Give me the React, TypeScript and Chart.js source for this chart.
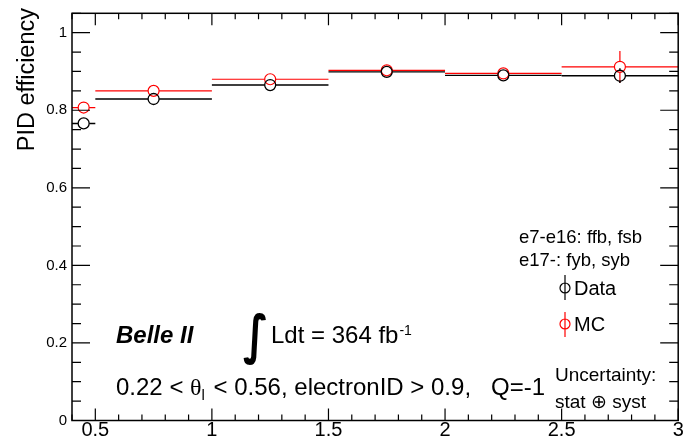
import React, { useEffect, useRef } from 'react';
import { Chart, registerables } from 'chart.js';

Chart.register(...registerables);

// ---- data ----
const binEdges = [0.4, 0.5, 1.0, 1.5, 2.0, 2.5, 3.0];
const dataEff = [0.766, 0.829, 0.865, 0.899, 0.890, 0.889];
const dataErr = [0.006, 0.004, 0.004, 0.004, 0.006, 0.019];
const mcEff = [0.807, 0.850, 0.880, 0.903, 0.895, 0.912];
const mcErr = [0.004, 0.003, 0.003, 0.003, 0.005, 0.041];
const xTicks = [0.5, 1, 1.5, 2, 2.5, 3];
const xTickLabels = ['0.5', '1', '1.5', '2', '2.5', '3'];
const yTicks = [0, 0.2, 0.4, 0.6, 0.8, 1];
const yTickLabels = ['0', '0.2', '0.4', '0.6', '0.8', '1'];
const xMinorStep = 0.1;
const yMinorStep = 0.05;

const FONT = '"Liberation Sans", Arial, Helvetica, sans-serif';
const SERIF = '"Liberation Serif", "DejaVu Serif", serif';

export default function App() {
  const ref = useRef<HTMLCanvasElement>(null);

  useEffect(() => {
    const canvas = ref.current;
    if (!canvas) return;
    const centers = binEdges.slice(0, -1).map((e, i) => (e + binEdges[i + 1]) / 2);
    const R = 5.5;

    const rootPlugin = {
      id: 'rootStyle',
      beforeDatasetsDraw(chart: any) {
        const ctx = chart.ctx;
        const xs = chart.scales.x;
        const ys = chart.scales.y;
        const series = [
          { eff: mcEff, err: mcErr, color: '#ff0000', w: 1.2 },
          { eff: dataEff, err: dataErr, color: '#000000', w: 1.4 },
        ];
        ctx.save();
        for (const s of series) {
          ctx.strokeStyle = s.color;
          ctx.lineWidth = s.w;
          for (let i = 0; i < centers.length; i++) {
            const xl = xs.getPixelForValue(binEdges[i]);
            const xh = xs.getPixelForValue(binEdges[i + 1]);
            const xc = xs.getPixelForValue(centers[i]);
            const yc = ys.getPixelForValue(s.eff[i]);
            const yt = ys.getPixelForValue(s.eff[i] + s.err[i]);
            const yb = ys.getPixelForValue(s.eff[i] - s.err[i]);
            ctx.beginPath();
            if (xc - R > xl) { ctx.moveTo(xl, yc); ctx.lineTo(xc - R, yc); }
            if (xh > xc + R) { ctx.moveTo(xc + R, yc); ctx.lineTo(xh, yc); }
            if (yt < yc - R) { ctx.moveTo(xc, yc - R); ctx.lineTo(xc, yt); }
            if (yb > yc + R) { ctx.moveTo(xc, yc + R); ctx.lineTo(xc, yb); }
            ctx.stroke();
          }
        }
        ctx.restore();
      },
      afterDraw(chart: any) {
        const ctx = chart.ctx;
        const xs = chart.scales.x;
        const ys = chart.scales.y;
        const { left, right, top, bottom } = chart.chartArea;
        ctx.save();
        // frame
        ctx.strokeStyle = '#000';
        ctx.lineWidth = 1.5;
        ctx.strokeRect(left, top, right - left, bottom - top);
        // ticks
        ctx.lineWidth = 1.2;
        ctx.beginPath();
        const nx = Math.round((binEdges[binEdges.length - 1] - binEdges[0]) / xMinorStep);
        for (let i = 0; i <= nx; i++) {
          const v = binEdges[0] + i * xMinorStep;
          const major = xTicks.some((t) => Math.abs(t - v) < 1e-6);
          const len = major ? 12 : 6;
          const px = xs.getPixelForValue(v);
          ctx.moveTo(px, bottom); ctx.lineTo(px, bottom - len);
          ctx.moveTo(px, top); ctx.lineTo(px, top + len);
        }
        const ny = Math.floor(ys.max / yMinorStep + 1e-6);
        for (let i = 0; i <= ny; i++) {
          const v = i * yMinorStep;
          const major = yTicks.some((t) => Math.abs(t - v) < 1e-6);
          const len = major ? 18 : 9;
          const py = ys.getPixelForValue(v);
          ctx.moveTo(left, py); ctx.lineTo(left + len, py);
          ctx.moveTo(right, py); ctx.lineTo(right - len, py);
        }
        ctx.stroke();

        // y title
        ctx.fillStyle = '#000';
        ctx.save();
        ctx.translate(34, 8);
        ctx.rotate(-Math.PI / 2);
        ctx.font = `23.5px ${FONT}`;
        ctx.textAlign = 'right';
        ctx.textBaseline = 'alphabetic';
        ctx.fillText('PID efficiency', 0, 0);
        ctx.restore();

        ctx.textAlign = 'left';
        ctx.textBaseline = 'alphabetic';
        // info text
        ctx.font = `18.5px ${FONT}`;
        ctx.fillText('e7-e16: ffb, fsb', 519, 243);
        ctx.fillText('e17-: fyb, syb', 519, 266);

        // legend
        const legend = [
          { label: 'Data', color: '#000000', cy: 288, y0: 275, y1: 300, base: 295 },
          { label: 'MC', color: '#ff0000', cy: 324, y0: 312, y1: 337, base: 331 },
        ];
        for (const l of legend) {
          ctx.strokeStyle = l.color;
          ctx.lineWidth = 1.2;
          ctx.beginPath();
          ctx.arc(565, l.cy, 5, 0, Math.PI * 2);
          ctx.moveTo(565, l.y0); ctx.lineTo(565, l.y1);
          ctx.stroke();
          ctx.fillStyle = '#000';
          ctx.font = `20px ${FONT}`;
          ctx.fillText(l.label, 574, l.base);
        }

        // Belle II
        ctx.font = `italic bold 24px ${FONT}`;
        ctx.fillText('Belle II', 116, 343);

        // integral
        ctx.save();
        ctx.translate(243, 353);
        ctx.scale(1.1, 1.4);
        ctx.font = `bold 38px "DejaVu Sans", ${SERIF}`;
        ctx.fillText('\u222B', 0, 0);
        ctx.restore();

        ctx.font = `24px ${FONT}`;
        const s1 = 'Ldt = 364 fb';
        ctx.fillText(s1, 271, 343);
        const w1 = ctx.measureText(s1).width;
        ctx.font = `14px ${FONT}`;
        ctx.fillText('-1', 271 + w1 + 1, 335);

        // selection line
        let x = 116;
        const base = 395;
        ctx.font = `24px ${FONT}`;
        const a = '0.22 < ';
        ctx.fillText(a, x, base); x += ctx.measureText(a).width;
        ctx.font = `24px ${SERIF}`;
        ctx.fillText('\u03B8', x, base); x += ctx.measureText('\u03B8').width;
        ctx.font = `15px ${FONT}`;
        ctx.fillText('l', x, base + 5); x += ctx.measureText('l').width + 2;
        ctx.font = `24px ${FONT}`;
        ctx.fillText(' < 0.56, electronID > 0.9,   Q=-1', x, base);

        // uncertainty
        ctx.font = `19px ${FONT}`;
        ctx.fillText('Uncertainty:', 555, 381);
        ctx.fillText('stat \u2295 syst', 555, 408);
        ctx.restore();
      },
    };

    const chart = new Chart(canvas, {
      type: 'scatter',
      data: {
        datasets: [
          {
            label: 'Data',
            data: centers.map((c, i) => ({ x: c, y: dataEff[i] })),
            borderColor: '#000000',
            backgroundColor: 'rgba(0,0,0,0)',
            pointRadius: R,
            pointBorderWidth: 1.3,
            pointStyle: 'circle',
          },
          {
            label: 'MC',
            data: centers.map((c, i) => ({ x: c, y: mcEff[i] })),
            borderColor: '#ff0000',
            backgroundColor: 'rgba(0,0,0,0)',
            pointRadius: R,
            pointBorderWidth: 1.2,
            pointStyle: 'circle',
          },
        ],
      },
      options: {
        responsive: false,
        animation: false,
        devicePixelRatio: 1,
        layout: { padding: { top: 13.3, right: 5, left: 0, bottom: 0 } },
        plugins: { legend: { display: false }, tooltip: { enabled: false } },
        scales: {
          x: {
            type: 'linear',
            min: binEdges[0],
            max: binEdges[binEdges.length - 1],
            grid: { display: false, drawTicks: false },
            border: { display: false },
            afterBuildTicks: (s: any) => { s.ticks = xTicks.map((v) => ({ value: v })); },
            afterFit: (s: any) => { s.height = 17.5; },
            ticks: {
              padding: 0,
              maxRotation: 0,
              autoSkip: false,
              color: '#000',
              font: { family: FONT, size: 20, lineHeight: 1 },
              callback: (v: any) => {
                const i = xTicks.findIndex((t) => Math.abs(t - Number(v)) < 1e-6);
                return i >= 0 ? xTickLabels[i] : '';
              },
            },
          },
          y: {
            type: 'linear',
            min: 0,
            max: 1.05,
            grid: { display: false, drawTicks: false },
            border: { display: false },
            afterBuildTicks: (s: any) => { s.ticks = yTicks.map((v) => ({ value: v })); },
            afterFit: (s: any) => { s.width = 72; },
            ticks: {
              padding: 5,
              autoSkip: false,
              color: '#000',
              font: { family: FONT, size: 15, lineHeight: 1 },
              callback: (v: any) => {
                const i = yTicks.findIndex((t) => Math.abs(t - Number(v)) < 1e-6);
                return i >= 0 ? yTickLabels[i] : '';
              },
            },
          },
        },
      },
      plugins: [rootPlugin],
    } as any);

    return () => chart.destroy();
  }, []);

  return (
    <div style={{ position: 'absolute', left: 0, top: 0, width: 685, height: 438, background: '#fff' }}>
      <canvas ref={ref} width={685} height={438} style={{ display: 'block' }} />
    </div>
  );
}
